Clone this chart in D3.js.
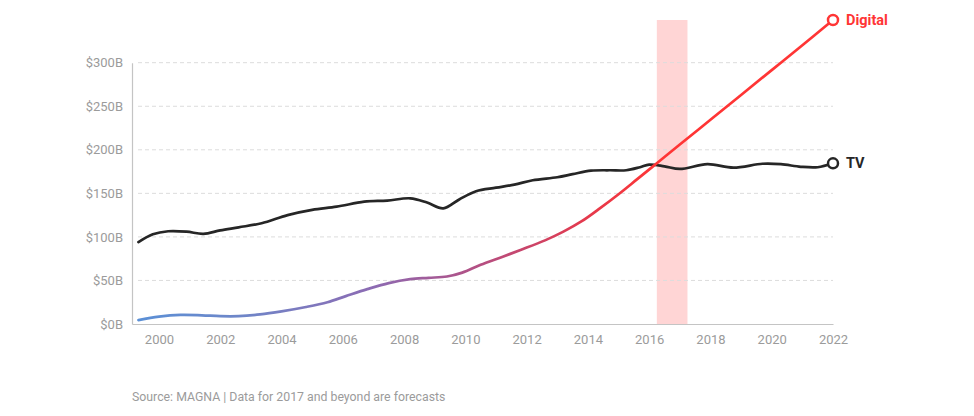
<!DOCTYPE html>
<html>
<head>
<meta charset="utf-8">
<script src="https://cdn.jsdelivr.net/npm/d3@7"></script>
<style>
  html, body { margin: 0; padding: 0; background: #fff; }
  svg { display: block; font-family: Roboto, "Open Sans", sans-serif; }
</style>
</head>
<body>
<svg id="chart" width="974" height="416"></svg>
<script>
// ---- data ----
const tvYears = [1999.33, 1999.8, 2000.3, 2000.9, 2001.45, 2002.0, 2002.6, 2003.35, 2004.2, 2005.0, 2005.8, 2006.7, 2007.45, 2008.2, 2008.75, 2009.28, 2009.8, 2010.35, 2011.0, 2011.6, 2012.2, 2013.0, 2013.5, 2014.1, 2014.7, 2015.25, 2015.7, 2016.0, 2016.5, 2017.0, 2017.9, 2018.75, 2019.7, 2020.3, 2020.95, 2021.5, 2022.0];
const tvValues = [94, 103, 106.5, 106, 103.5, 107.5, 111, 115.6, 125, 131, 134.7, 140.4, 141.7, 144.3, 139.5, 132.8, 143, 152.5, 156.5, 160, 165, 168.5, 172, 176, 176.5, 176.5, 180, 183, 181, 178, 183.5, 179.5, 184, 183.5, 180.5, 180, 184.5];

const digitalYears = [1999.33, 2000.0, 2000.7, 2001.4, 2002.0, 2002.6, 2003.3, 2004.0, 2004.8, 2005.5, 2006.1, 2006.8, 2007.5, 2008.2, 2008.8, 2009.4, 2009.9, 2010.5, 2011.2, 2011.8, 2012.6, 2013.2, 2013.8, 2014.4, 2015.0, 2015.6, 2016.3, 2017.0, 2018.0, 2019.0, 2020.0, 2021.0, 2022.0];
const digitalValues = [4.5, 8.5, 10.5, 10, 9, 9, 11, 14.5, 19.5, 25, 32, 40, 47, 51.5, 53, 54.5, 59, 68, 77, 85, 96, 106, 118, 133, 149, 166, 186, 206, 234.5, 263, 291.5, 320, 349];

const yTicks = [0, 50, 100, 150, 200, 250, 300];
const xTicks = [2000, 2002, 2004, 2006, 2008, 2010, 2012, 2014, 2016, 2018, 2020, 2022];
const forecastBand = [2016.25, 2017.25];
const seriesLabels = ["Digital", "TV"];
const sourceText = "Source: MAGNA | Data for 2017 and beyond are forecasts";

// ---- layout ----
const svg = d3.select("#chart");
const x = d3.scaleLinear().domain([1999.12, 2022]).range([132, 833]);
const y = d3.scaleLinear().domain([0, 300]).range([324, 62.7]);

const red = "#ff3535";
const dark = "#262626";
const tickColor = "#9b9b9b";

// gradient for digital line
const defs = svg.append("defs");
const grad = defs.append("linearGradient")
  .attr("id", "digGrad")
  .attr("gradientUnits", "userSpaceOnUse")
  .attr("x1", x(1999.33)).attr("x2", x(2016.3))
  .attr("y1", 0).attr("y2", 0);
[[0, "#5b90d6"], [0.2, "#6f86c8"], [0.45, "#8c6bb3"], [0.65, "#b35084"], [0.85, "#e23a4f"], [1, red]]
  .forEach(([o, c]) => grad.append("stop").attr("offset", o).attr("stop-color", c));

// forecast band
svg.append("rect")
  .attr("x", x(forecastBand[0]))
  .attr("width", x(forecastBand[1]) - x(forecastBand[0]))
  .attr("y", y(digitalValues[digitalValues.length - 1]))
  .attr("height", y(0) - y(digitalValues[digitalValues.length - 1]))
  .attr("fill", "#ffd5d5");

// grid lines
svg.append("g").selectAll("line")
  .data(yTicks.filter(d => d > 0))
  .join("line")
  .attr("x1", 138).attr("x2", 833)
  .attr("y1", d => y(d)).attr("y2", d => y(d))
  .attr("stroke", "#dcdcdc")
  .attr("stroke-width", 1)
  .attr("stroke-dasharray", "4,3");

// y axis
const yAxis = svg.append("g")
  .attr("transform", `translate(132,0)`)
  .call(d3.axisLeft(y).tickValues(yTicks).tickSize(0).tickPadding(9)
    .tickFormat(d => `$${d}B`));
yAxis.select(".domain").attr("stroke", "#c4c4c4").attr("stroke-width", 1.2);
yAxis.selectAll("text").attr("fill", tickColor).attr("font-size", 13)
  .attr("font-family", "Roboto, sans-serif");

// x axis
const xAxis = svg.append("g")
  .attr("transform", `translate(0,${y(0)})`)
  .call(d3.axisBottom(x).tickValues(xTicks).tickSize(0).tickPadding(11)
    .tickFormat(d3.format("d")));
xAxis.select(".domain").attr("stroke", "#c4c4c4").attr("stroke-width", 1.2);
xAxis.selectAll("text").attr("fill", tickColor).attr("font-size", 13)
  .attr("font-family", "Roboto, sans-serif");

// lines
const line = d3.line().x(d => x(d[0])).y(d => y(d[1])).curve(d3.curveCatmullRom.alpha(0.5));

const tvData = tvYears.map((t, i) => [t, tvValues[i]]);
const digData = digitalYears.map((t, i) => [t, digitalValues[i]]);

svg.append("path").datum(tvData)
  .attr("d", line).attr("fill", "none")
  .attr("stroke", dark).attr("stroke-width", 2.7)
  .attr("stroke-linecap", "round");

svg.append("path").datum(digData)
  .attr("d", line).attr("fill", "none")
  .attr("stroke", "url(#digGrad)").attr("stroke-width", 2.7)
  .attr("stroke-linecap", "round");

// end markers + labels
const ends = [
  { label: seriesLabels[0], d: digData[digData.length - 1], color: red },
  { label: seriesLabels[1], d: tvData[tvData.length - 1], color: dark }
];
ends.forEach(e => {
  svg.append("circle")
    .attr("cx", x(e.d[0])).attr("cy", y(e.d[1])).attr("r", 5)
    .attr("fill", "#fff").attr("stroke", e.color).attr("stroke-width", 2.5);
  svg.append("text")
    .attr("x", x(e.d[0]) + 13).attr("y", y(e.d[1]))
    .attr("dy", "0.35em")
    .attr("fill", e.color)
    .attr("font-size", 14.5).attr("font-weight", 700)
    .attr("font-family", "Roboto, sans-serif")
    .text(e.label);
});

// source
svg.append("text")
  .attr("x", 132).attr("y", 401)
  .attr("fill", tickColor).attr("font-size", 12.3)
  .attr("font-family", "Roboto, sans-serif")
  .text(sourceText);
</script>
</body>
</html>
